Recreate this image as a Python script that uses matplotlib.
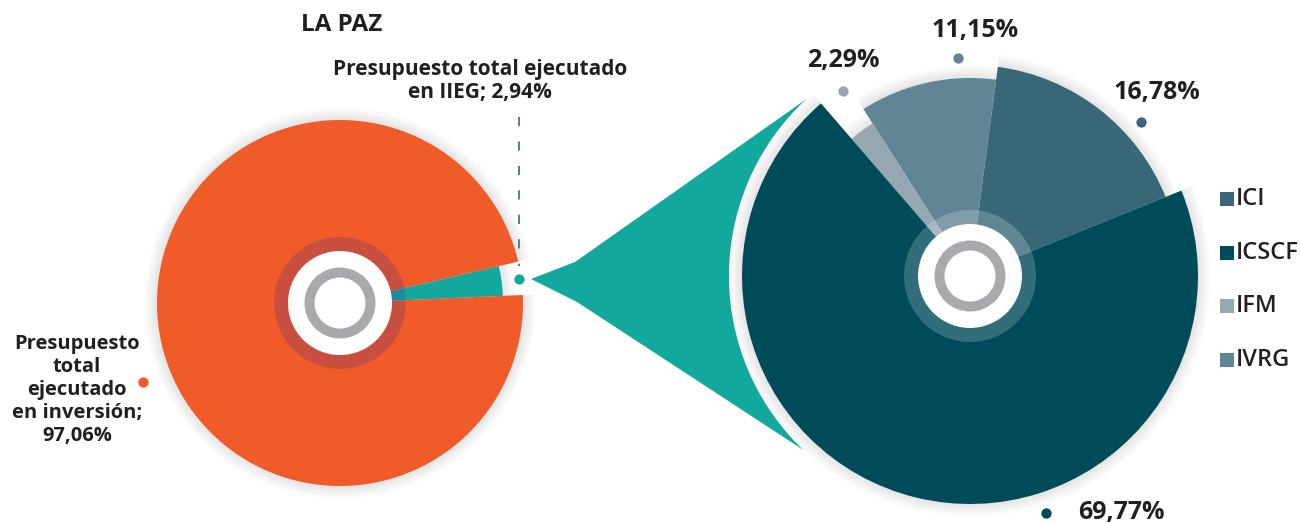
import matplotlib.pyplot as plt
import numpy as np
from matplotlib.patches import Wedge, Circle, PathPatch
from matplotlib.path import Path

W, H = 1301, 524

# ---- data ----
left_labels = ["Presupuesto total ejecutado\nen IIEG", "Presupuesto\ntotal\nejecutado\nen inversión"]
left_values = [2.94, 97.06]

right_labels = ["ICI", "IVRG", "IFM", "ICSCF"]
right_values = [16.78, 11.15, 2.29, 69.77]
legend_order = ["ICI", "ICSCF", "IFM", "IVRG"]

# ---- styles ----
orange = "#F15A29"
teal = "#13A89E"
right_colors = {"ICI": "#386877", "IVRG": "#628595", "IFM": "#95A8B2", "ICSCF": "#004B5A"}
text_col = "#231F20"
fonts = ["Open Sans", "DejaVu Sans"]


def Y(y):
    # picture rows -> data y
    return H - y


def pct(v):
    return f"{v:.2f}".replace(".", ",") + "%"


def shadow(ax, w, n=14):
    for k in range(1, n):
        ax.add_patch(Wedge(w.center, w.r + k, w.theta1, w.theta2,
                           color="k", alpha=0.009, lw=0, zorder=0.5))


def hub(ax, c, ring_col, ring_alpha):
    ax.add_patch(Wedge(c, 66, 0, 360, width=14, fc=ring_col, alpha=ring_alpha, lw=0, zorder=3))
    ax.add_patch(Circle(c, 52, fc="white", lw=0, zorder=4))
    ax.add_patch(Wedge(c, 35.5, 0, 360, width=10, fc="#A7A9AC", lw=0, zorder=5))


fig = plt.figure(figsize=(W / 100, H / 100), dpi=100)
ax = fig.add_axes([0, 0, 1, 1])

# ---- left pie ----
lc = (340, Y(303))
lw_, _ = ax.pie(left_values, center=lc, radius=183, startangle=2.5,
                colors=[teal, orange], wedgeprops=dict(lw=0))
for w, r in zip(lw_, [163, 183]):
    w.set_radius(r)
    w.set_zorder(2)
    shadow(ax, w)
hub(ax, lc, "#382C96", 0.22)

# ---- right pie ----
rc = (970, Y(276))
rw, _ = ax.pie(right_values, center=rc, radius=228, startangle=22,
               colors=[right_colors[l] for l in right_labels], wedgeprops=dict(lw=0))
for w, r in zip(rw, [211, 198, 181, 228]):
    w.set_radius(r)
    w.set_zorder(2)
    shadow(ax, w)
hub(ax, rc, "white", 0.2)

# ---- funnel joining the IIEG slice to the right pie ----
rf = 241
a = np.radians(np.linspace(132.8, 226.2, 60))
arc = np.column_stack([rc[0] + rf * np.cos(a), rc[1] + rf * np.sin(a)])
pts = [(531, Y(279)), (575, Y(262))] + list(arc) + [(577, Y(302)), (531, Y(279))]
codes = [Path.MOVETO] + [Path.LINETO] * (len(pts) - 2) + [Path.CLOSEPOLY]
ax.add_patch(PathPatch(Path(pts, codes), fc=teal, lw=0, zorder=1))

# ---- callouts ----
ax.plot([519, 519], [Y(117), Y(266)], color="#2B5965", lw=1.1, dashes=(6, 10), zorder=3)
ax.scatter([519], [Y(279)], s=55, color=teal, lw=0, zorder=6)
ax.scatter([143], [Y(382)], s=55, color=orange, lw=0, zorder=6)

ax.text(480, Y(81), left_labels[0] + "; " + pct(left_values[0]), ha="center", va="center",
        fontsize=15, fontweight="bold", color=text_col, family=fonts, linespacing=1.15)
ax.text(77, Y(390), left_labels[1] + ";\n" + pct(left_values[1]), ha="center", va="center",
        fontsize=14.5, fontweight="bold", color=text_col, family=fonts, linespacing=1.2)
ax.text(342, Y(25), "LA PAZ", ha="center", va="center", fontsize=17.5,
        fontweight="bold", color=text_col, family=fonts)

dot_pos = {"ICI": (1141, 122), "IVRG": (958, 58), "IFM": (843, 91), "ICSCF": (1046, 513)}
lab_pos = {"ICI": (1157, 92), "IVRG": (975, 31), "IFM": (843, 61), "ICSCF": (1121, 512)}
for l, v in zip(right_labels, right_values):
    dx, dy = dot_pos[l]
    ax.scatter([dx], [Y(dy)], s=55, color=right_colors[l], lw=0, zorder=6)
    tx, ty = lab_pos[l]
    ax.text(tx, Y(ty), pct(v), ha="center", va="center", fontsize=18,
            fontweight="bold", color=text_col, family=fonts)

# ---- legend ----
for i, l in enumerate(legend_order):
    yy = Y(199 + i * 53.7)
    ax.scatter([1227], [yy], s=90, marker="s", color=right_colors[l], lw=0)
    ax.text(1236, yy, l, ha="left", va="center", fontsize=17, fontweight="semibold",
            color=text_col, family=fonts)

ax.set_xlim(0, W)
ax.set_ylim(0, H)
ax.set_aspect("equal")
ax.axis("off")

fig.savefig("out.png", dpi=100)
